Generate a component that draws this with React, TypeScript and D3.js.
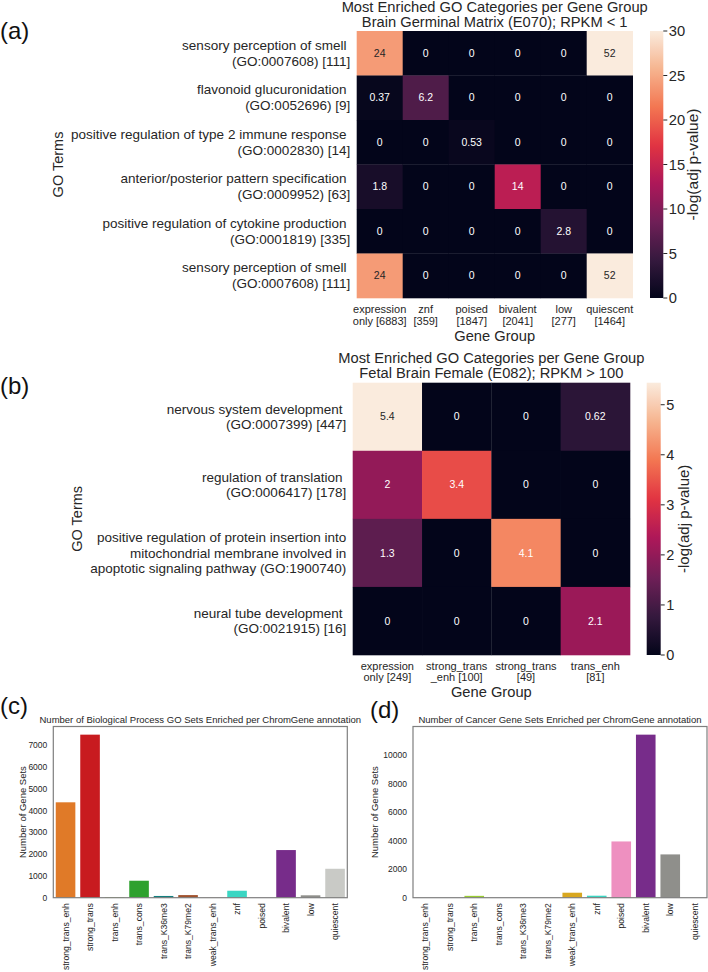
import React from 'react';
import * as d3 from 'd3';

const FONT = "'Liberation Sans', Arial, Helvetica, sans-serif";
const TXT = '#262626';

// ---------- Panel (a) data ----------
const aGroups = [
  ['expression', 'only [6883]'],
  ['znf', '[359]'],
  ['poised', '[1847]'],
  ['bivalent', '[2041]'],
  ['low', '[277]'],
  ['quiescent', '[1464]'],
];
const aTerms = [
  ['sensory perception of smell ', '(GO:0007608) [111]'],
  ['flavonoid glucuronidation ', '(GO:0052696) [9]'],
  ['positive regulation of type 2 immune response ', '(GO:0002830) [14]'],
  ['anterior/posterior pattern specification ', '(GO:0009952) [63]'],
  ['positive regulation of cytokine production ', '(GO:0001819) [335]'],
  ['sensory perception of smell ', '(GO:0007608) [111]'],
];
const aValues = [
  [24, 0, 0, 0, 0, 52],
  [0.37, 6.2, 0, 0, 0, 0],
  [0, 0, 0.53, 0, 0, 0],
  [1.8, 0, 0, 14, 0, 0],
  [0, 0, 0, 0, 2.8, 0],
  [24, 0, 0, 0, 0, 52],
];
const aVmax = 30;
const aTicks = [0, 5, 10, 15, 20, 25, 30];
const aTitle = ['Most Enriched GO Categories per Gene Group', 'Brain Germinal Matrix (E070); RPKM < 1'];

// ---------- Panel (b) data ----------
const bGroups = [
  ['expression', 'only [249]'],
  ['strong_trans', '_enh [100]'],
  ['strong_trans', '[49]'],
  ['trans_enh', '[81]'],
];
const bTerms = [
  ['nervous system development ', '(GO:0007399) [447]'],
  ['regulation of translation ', '(GO:0006417) [178]'],
  ['positive regulation of protein insertion into', 'mitochondrial membrane involved in', 'apoptotic signaling pathway (GO:1900740)'],
  ['neural tube development ', '(GO:0021915) [16]'],
];
const bValues = [
  [5.44, 0, 0, 0.62],
  [2, 3.4, 0, 0],
  [1.3, 0, 4.1, 0],
  [0, 0, 0, 2.1],
];
const bTicks = [0, 1, 2, 3, 4, 5];
const bTitle = ['Most Enriched GO Categories per Gene Group', 'Fetal Brain Female (E082); RPKM > 100'];

// ---------- Panels (c), (d) data ----------
const annotations = [
  'strong_trans_enh', 'strong_trans', 'trans_enh', 'trans_cons', 'trans_K36me3', 'trans_K79me2',
  'weak_trans_enh', 'znf', 'poised', 'bivalent', 'low', 'quiescent',
];
const annotationColors = [
  '#e07a28', '#c81b1f', '#9acd32', '#2ea12e', '#127f7f', '#a0522d',
  '#d8a720', '#3ad6c3', '#ee90c0', '#772c8a', '#8f8f8b', '#c9cac6',
];
const goCounts = [4385, 7495, 25, 780, 80, 120, 5, 320, 5, 2190, 110, 1330];
const goTicks = [0, 1000, 2000, 3000, 4000, 5000, 6000, 7000];
const cancerCounts = [0, 0, 130, 0, 0, 0, 350, 140, 3950, 11450, 3040, 0];
const cancerTicks = [0, 2000, 4000, 6000, 8000, 10000];

// rocket colormap stops (seaborn)
const rocketStops = ['#03051a', '#35193e', '#701f57', '#ad1759', '#e13342', '#f37651', '#f6b48f', '#faebdd'];
const rocket = d3
  .scaleLinear<string>()
  .domain(rocketStops.map((_, i) => i / (rocketStops.length - 1)))
  .range(rocketStops)
  .interpolate(d3.interpolateRgb)
  .clamp(true);

const fmt = d3.format('.2~g');

function luminance(c: string) {
  const rgb = d3.rgb(c);
  const f = (v: number) => {
    const s = v / 255;
    return s <= 0.03928 ? s / 12.92 : Math.pow((s + 0.055) / 1.055, 2.4);
  };
  return 0.2126 * f(rgb.r) + 0.7152 * f(rgb.g) + 0.0722 * f(rgb.b);
}

type HeatCfg = {
  id: string;
  groups: string[][];
  terms: string[][];
  values: number[][];
  vmax: number;
  ticks: number[];
  title: string[];
  left: number; right: number; top: number; bottom: number;
  cbX: number; cbW: number; cbLabelX: number; cbLabelSize: number; cbTickSize: number;
  titleY: number[];
  xLabY: number[]; geneGroupY: number;
  yLineGap: number; goTermsX: number;
  tag: string; tagY: number;
};

function HeatPanel({ c }: { c: HeatCfg }) {
  const nC = c.groups.length;
  const nR = c.terms.length;
  const x = d3.scaleBand<number>().domain(d3.range(nC)).range([c.left, c.right]);
  const y = d3.scaleBand<number>().domain(d3.range(nR)).range([c.top, c.bottom]);
  const cb = d3.scaleLinear().domain([0, c.vmax]).range([c.bottom, c.top]);
  const color = (v: number) => rocket(v / c.vmax);
  const cx = (c.left + c.right) / 2;
  const cy = (c.top + c.bottom) / 2;
  const gradStops = d3.range(0, 1.0001, 1 / 60);
  return (
    <g>
      <defs>
        <linearGradient id={c.id + '-grad'} x1="0" y1="1" x2="0" y2="0">
          {gradStops.map((t, i) => (
            <stop key={i} offset={t} stopColor={rocket(t)} />
          ))}
        </linearGradient>
      </defs>
      <text x={0} y={c.tagY} fontSize={24} fill="#111">{c.tag}</text>
      {c.title.map((t, i) => (
        <text key={i} x={cx} y={c.titleY[i]} textAnchor="middle" fontSize={14.7} fill={TXT}>{t}</text>
      ))}
      {c.values.map((row, r) =>
        row.map((v, k) => {
          const col = color(v);
          const tc = luminance(col) > 0.408 ? TXT : '#ffffff';
          return (
            <g key={r + '-' + k}>
              <rect x={x(k)} y={y(r)} width={x.bandwidth() + 0.3} height={y.bandwidth() + 0.3} fill={col} />
              <text x={(x(k) as number) + x.bandwidth() / 2} y={(y(r) as number) + y.bandwidth() / 2} dy="0.35em"
                textAnchor="middle" fontSize={10.5} fill={tc}>{fmt(v)}</text>
            </g>
          );
        })
      )}
      {c.terms.map((lines, r) => {
        const mid = (y(r) as number) + y.bandwidth() / 2;
        const n = lines.length;
        return lines.map((ln, i) => (
          <text key={r + '-' + i} x={c.left - 6.5} y={mid + (i - (n - 1) / 2) * c.yLineGap} dy="0.35em"
            textAnchor="end" fontSize={13.5} fill={TXT} style={{ whiteSpace: 'pre' }}>{ln}</text>
        ));
      })}
      {c.groups.map((lines, k) =>
        lines.map((ln, i) => (
          <text key={k + '-' + i} x={(x(k) as number) + x.bandwidth() / 2} y={c.xLabY[i]} textAnchor="middle"
            fontSize={11} fill={TXT}>{ln}</text>
        ))
      )}
      <text x={cx} y={c.geneGroupY} textAnchor="middle" fontSize={14.7} fill={TXT}>Gene Group</text>
      <text transform={`translate(${c.goTermsX},${cy}) rotate(-90)`} textAnchor="middle" dy="0.35em"
        fontSize={14.5} fill={TXT}>GO Terms</text>
      <rect x={c.cbX} y={c.top} width={c.cbW} height={c.bottom - c.top} fill={`url(#${c.id}-grad)`} />
      {c.ticks.map((t) => (
        <g key={t}>
          <line x1={c.cbX + c.cbW} x2={c.cbX + c.cbW + 4} y1={cb(t)} y2={cb(t)} stroke={TXT} strokeWidth={1} />
          <text x={c.cbX + c.cbW + 5.5} y={cb(t)} dy="0.35em" fontSize={c.cbTickSize} fill={TXT}>{t}</text>
        </g>
      ))}
      <text transform={`translate(${c.cbLabelX},${cy}) rotate(-90)`} textAnchor="middle" dy="0.35em"
        fontSize={c.cbLabelSize} fill={TXT}>-log(adj p-value)</text>
    </g>
  );
}

type BarCfg = {
  counts: number[]; ticks: number[]; title: string;
  left: number; right: number; top: number; bottom: number;
  labelX: number; tag: string; tagX: number; tagY: number; titleY: number;
};

function BarPanel({ c }: { c: BarCfg }) {
  const x = d3.scaleBand<string>().domain(annotations).range([c.left, c.right]).paddingInner(0.2).paddingOuter(0.1);
  const y = d3.scaleLinear().domain([0, (d3.max(c.counts) as number) * 1.05]).range([c.bottom, c.top]);
  const cy = (c.top + c.bottom) / 2;
  return (
    <g>
      <text x={c.tagX} y={c.tagY} fontSize={24} fill="#111">{c.tag}</text>
      <text x={(c.left + c.right) / 2} y={c.titleY} textAnchor="middle" fontSize={9.5} fill={TXT}>{c.title}</text>
      {annotations.map((a, i) => (
        <rect key={a} x={x(a)} y={y(c.counts[i])} width={x.bandwidth()} height={c.bottom - y(c.counts[i])}
          fill={annotationColors[i]} />
      ))}
      <rect x={c.left} y={c.top} width={c.right - c.left} height={c.bottom - c.top} fill="none" stroke="#7f7f7f" strokeWidth={1.2} />
      {c.ticks.map((t) => (
        <text key={t} x={c.left - 6} y={y(t)} dy="0.35em" textAnchor="end" fontSize={8.5} fill={TXT}>{t}</text>
      ))}
      {annotations.map((a) => (
        <text key={a} transform={`translate(${(x(a) as number) + x.bandwidth() / 2},${c.bottom + 5.5}) rotate(-90)`}
          textAnchor="end" dy="0.35em" fontSize={8.6} fill={TXT}>{a}</text>
      ))}
      <text transform={`translate(${c.labelX},${cy}) rotate(-90)`} textAnchor="middle" dy="0.35em" fontSize={9.5} fill={TXT}>
        Number of Gene Sets
      </text>
    </g>
  );
}

const aCfg: HeatCfg = {
  id: 'ha', groups: aGroups, terms: aTerms, values: aValues, vmax: aVmax, ticks: aTicks, title: aTitle,
  left: 356.7, right: 632.7, top: 31, bottom: 298,
  cbX: 650, cbW: 13.3, cbLabelX: 693, cbLabelSize: 15.5, cbTickSize: 14.7,
  titleY: [12, 26.5], xLabY: [313, 325], geneGroupY: 340.5, yLineGap: 16, goTermsX: 58,
  tag: '(a)', tagY: 38.5,
};

const bCfg: HeatCfg = {
  id: 'hb', groups: bGroups, terms: bTerms, values: bValues, vmax: d3.max(bValues.flat()) as number, ticks: bTicks, title: bTitle,
  left: 352.7, right: 630, top: 382.7, bottom: 655,
  cbX: 646.7, cbW: 14, cbLabelX: 683.5, cbLabelSize: 15, cbTickSize: 14.5,
  titleY: [362.5, 378], xLabY: [669.5, 681], geneGroupY: 697, yLineGap: 15.5, goTermsX: 77,
  tag: '(b)', tagY: 394,
};

const cCfg: BarCfg = {
  counts: goCounts, ticks: goTicks, title: 'Number of Biological Process GO Sets Enriched per ChromGene annotation',
  left: 53.3, right: 347.3, top: 726.5, bottom: 897.7, labelX: 22.5, tag: '(c)', tagX: 0, tagY: 714, titleY: 722.5,
};

const dCfg: BarCfg = {
  counts: cancerCounts, ticks: cancerTicks, title: 'Number of Cancer Gene Sets Enriched per ChromGene annotation',
  left: 413, right: 707, top: 726.5, bottom: 897.7, labelX: 375, tag: '(d)', tagX: 370, tagY: 717.5, titleY: 722.5,
};

export default function App() {
  return (
    <svg width={708} height={972} viewBox="0 0 708 972"
      style={{ position: 'absolute', left: 0, top: 0, background: '#fff', fontFamily: FONT }}>
      <rect x={0} y={0} width={708} height={972} fill="#fff" />
      <HeatPanel c={aCfg} />
      <HeatPanel c={bCfg} />
      <BarPanel c={cCfg} />
      <BarPanel c={dCfg} />
    </svg>
  );
}
